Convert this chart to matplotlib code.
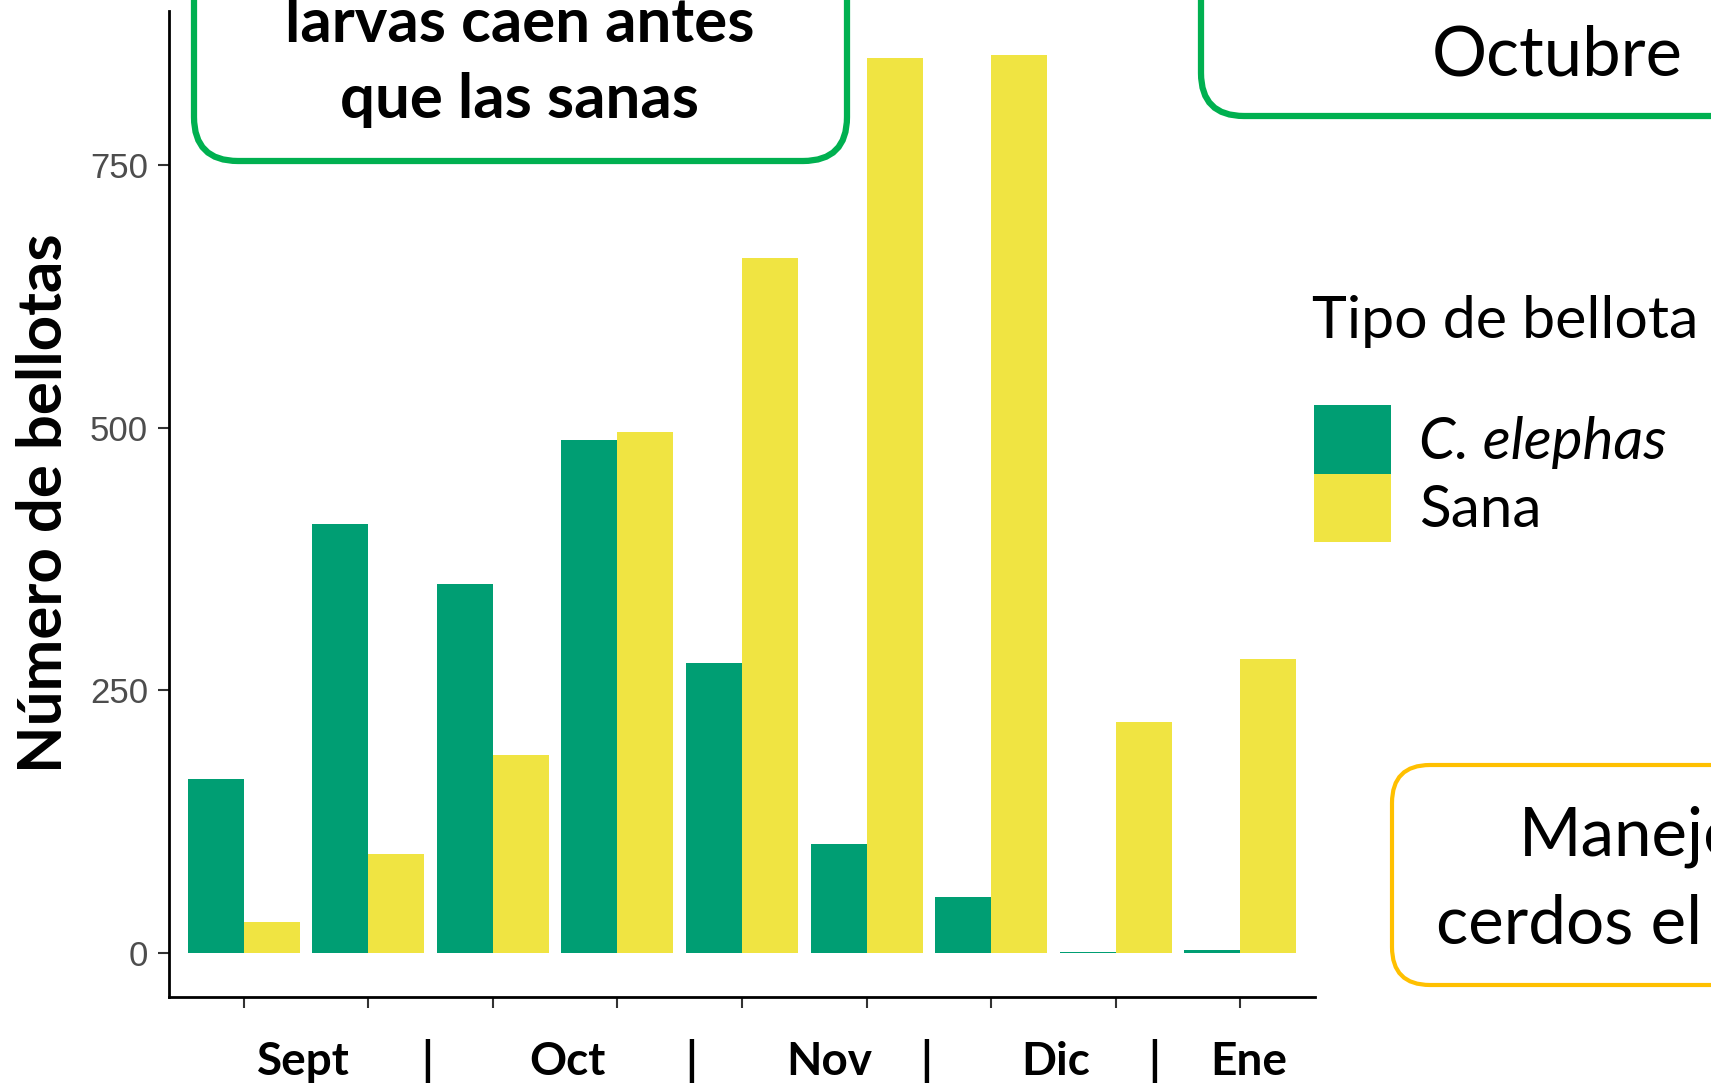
import numpy as np
import matplotlib.pyplot as plt
from matplotlib.patches import FancyBboxPatch
from matplotlib.transforms import blended_transform_factory

plt.rcParams['font.family'] = ['Lato', 'DejaVu Sans']

# --- data ---
months = ["Sept", "|", "Oct", "|", "Nov", "|", "Dic", "|", "Ene"]
elephas = [166, 408, 351, 488, 276, 104, 53, 1, 3]
sana = [29, 94, 188, 496, 662, 852, 855, 220, 280]
yticks = [0, 250, 500, 750]
series_names = ["C. elephas", "Sana"]
colors = ["#009E73", "#F0E442"]

# where the month texts sit under the axis (data x units)
month_x = [1.48, 2.47, 3.6, 4.59, 5.70, 6.48, 7.52, 8.31, 9.07]

W, H = 1711, 1083
fig = plt.figure(figsize=(W / 100, H / 100), dpi=100)
ax = fig.add_axes([169 / W, 1 - 997 / H, (1315 - 169) / W, (997 - 11) / H])

x = np.arange(1, len(elephas) + 1)
b1 = ax.bar(x - 0.225, elephas, width=0.45, color=colors[0])
b2 = ax.bar(x + 0.225, sana, width=0.45, color=colors[1])

ax.set_xlim(0.4, 9.6)
ax.set_ylim(-42, 897)
ax.set_yticks(yticks)
ax.set_xticks(x)
ax.set_xticklabels([])
for s in ["top", "right"]:
    ax.spines[s].set_visible(False)
for s in ["left", "bottom"]:
    ax.spines[s].set_linewidth(2)
    ax.spines[s].set_color("black")
ax.tick_params(length=8, width=1.5, color="#333333", pad=7)
for t in ax.get_yticklabels():
    t.set_fontfamily("Liberation Sans")
    t.set_fontsize(25)
    t.set_color("#4D4D4D")

# axis titles
fig.text(44 / W, 1 - 503 / H, "Número de bellotas", rotation=90,
         fontsize=44.5, fontweight="bold", ha="center", va="center")
tr = blended_transform_factory(ax.transData, fig.transFigure)
for m, mx in zip(months, month_x):
    ax.text(mx, 1 - 1075 / H, m, transform=tr, fontsize=33, fontweight="bold",
            ha="center", va="baseline", clip_on=False)

# legend
leg = ax.legend([b1, b2], series_names, loc="upper left",
                bbox_to_anchor=(1314 / W, 1 - 405 / H), bbox_transform=fig.transFigure,
                frameon=False, borderpad=0, borderaxespad=0, fontsize=42,
                handleheight=1.43, handlelength=1.32, handletextpad=0.48,
                labelspacing=0)
leg.get_texts()[0].set_fontstyle("italic")
fig.text(1312 / W, 1 - 338 / H, "Tipo de bellota", fontsize=42.5, va="baseline")


# slide call-out boxes (pixel coords from top-left)
def box(x0, y0, x1, y1, color, lw, r):
    p = FancyBboxPatch((x0 / 100, (H - y1) / 100), (x1 - x0) / 100, (y1 - y0) / 100,
                       boxstyle=f"round,pad=0,rounding_size={r / 100}",
                       transform=fig.dpi_scale_trans, facecolor="white",
                       edgecolor=color, linewidth=lw, clip_on=False, zorder=5)
    fig.add_artist(p)


box(194, -200, 847, 161, "#00B050", 4.5, 44)
box(1201, -200, 1900, 116, "#00B050", 4.5, 43)
box(1392, 765, 1900, 985, "#FFC000", 3, 38)

fig.text(520 / W, 1 - 42 / H, "larvas caen antes", fontsize=44.5, fontweight="bold",
         ha="center", va="baseline", zorder=6)
fig.text(520 / W, 1 - 118 / H, "que las sanas", fontsize=44.5, fontweight="bold",
         ha="center", va="baseline", zorder=6)
fig.text(1557 / W, 1 - 75 / H, "Octubre", fontsize=49.5, ha="center", va="baseline", zorder=6)
fig.text(1519 / W, 1 - 855 / H, "Manejo", fontsize=48.5, ha="left", va="baseline", zorder=6)
fig.text(1436 / W, 1 - 944 / H, "cerdos el", fontsize=48.5, ha="left", va="baseline", zorder=6)

fig.savefig("out.png", dpi=100)
